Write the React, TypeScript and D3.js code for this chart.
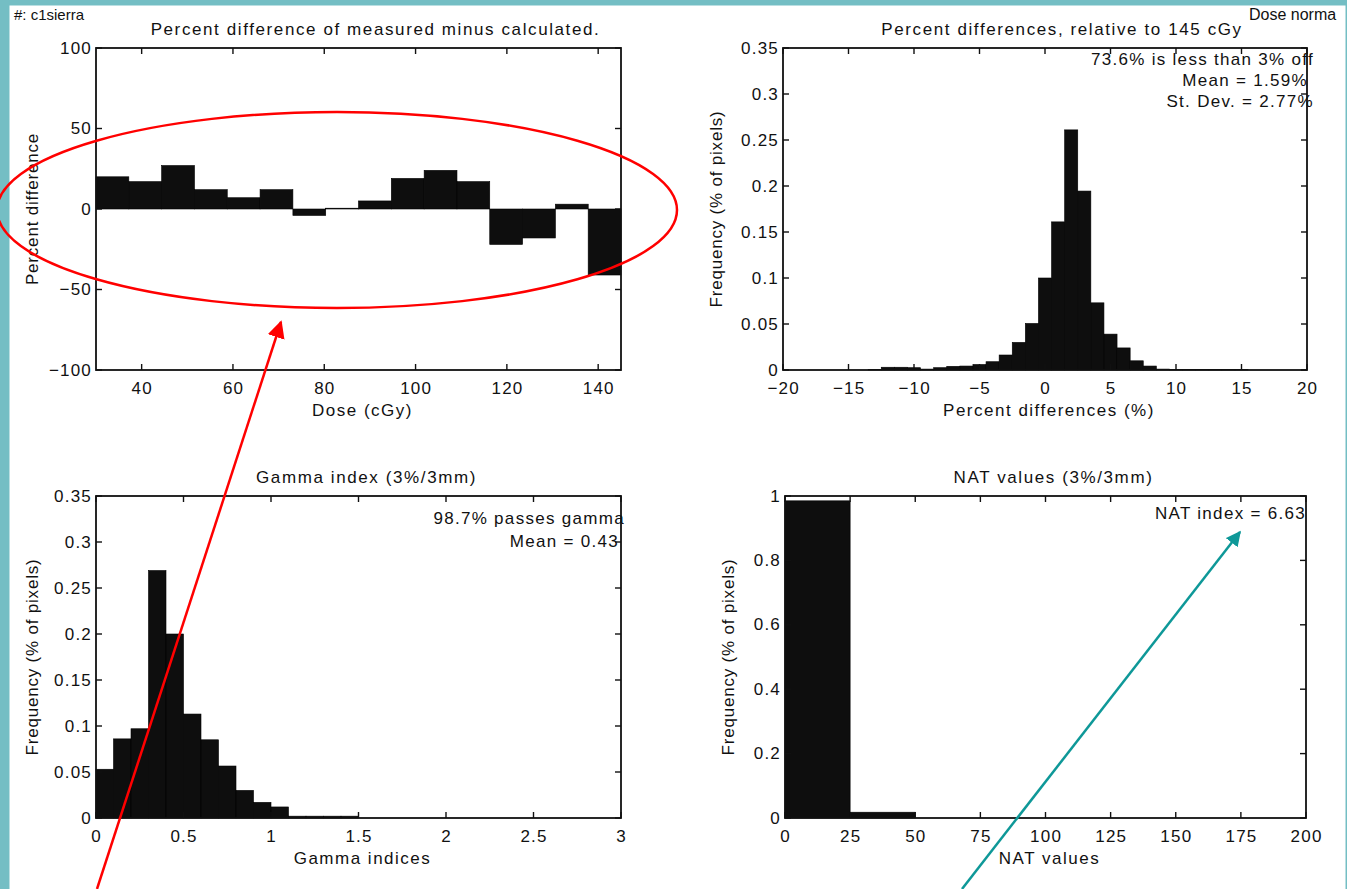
import * as d3 from "d3";

// ---- data ----
const doseBinStart = [30, 37.19, 44.38, 51.56, 58.75, 65.94, 73.13, 80.31, 87.5, 94.69, 101.88, 109.06, 116.25, 123.44, 130.63, 137.81];
const doseBinWidth = 7.19;
const doseDiff = [20, 17, 27, 12, 7, 12, -4, 0.5, 5, 19, 24, 17, -22, -18, 3, -41];
const doseTicks = [40, 60, 80, 100, 120, 140];
const diffTicks = [-100, -50, 0, 50, 100];
const diffTickLabels = ["\u2212100", "\u221250", "0", "50", "100"];

const pctCenters = [-15, -14, -13, -12, -11, -10, -9, -8, -7, -6, -5, -4, -3, -2, -1, 0, 1, 2, 3, 4, 5, 6, 7, 8, 9, 10, 11, 12, 13, 14, 15];
const pctFreq = [0, 0, 0.0005, 0.003, 0.003, 0.0025, 0.001, 0.0025, 0.004, 0.0043, 0.006, 0.009, 0.0163, 0.03, 0.0506, 0.1, 0.161, 0.261, 0.1945, 0.073, 0.039, 0.024, 0.01, 0.0043, 0.001, 0.0005, 0.0005, 0.0005, 0.0005, 0.0005, 0.0005];
const pctTicks = [-20, -15, -10, -5, 0, 5, 10, 15, 20];
const pctTickLabels = ["\u221220", "\u221215", "\u221210", "\u22125", "0", "5", "10", "15", "20"];
const freqTicks = [0, 0.05, 0.1, 0.15, 0.2, 0.25, 0.3, 0.35];
const freqTickLabels = ["0", "0.05", "0.1", "0.15", "0.2", "0.25", "0.3", "0.35"];

const gammaBinStart = [0, 0.1, 0.2, 0.3, 0.4, 0.5, 0.6, 0.7, 0.8, 0.9, 1.0, 1.1, 1.2, 1.3, 1.4];
const gammaBinWidth = 0.1;
const gammaFreq = [0.053, 0.086, 0.097, 0.269, 0.2, 0.113, 0.085, 0.0565, 0.03, 0.017, 0.012, 0.002, 0.002, 0.002, 0.002];
const gammaTicks = [0, 0.5, 1, 1.5, 2, 2.5, 3];
const gammaTickLabels = ["0", "0.5", "1", "1.5", "2", "2.5", "3"];

const natBinStart = [0, 25];
const natBinWidth = 25;
const natFreq = [0.985, 0.018];
const natTicks = [0, 25, 50, 75, 100, 125, 150, 175, 200];
const natFreqTicks = [0, 0.2, 0.4, 0.6, 0.8, 1];
const natFreqLabels = ["0", "0.2", "0.4", "0.6", "0.8", "1"];

const FONT = '"Liberation Sans", Arial, Helvetica, sans-serif';
const FS = 17;

type Bin = { x0: number; x1: number; v: number };
type Note = { text: string; x: number; y: number };

function Txt(props: any) {
  const { children, ...rest } = props;
  return (
    <text fontFamily={FONT} fontSize={FS} fill="#111" dominantBaseline="central" {...rest}>
      {children}
    </text>
  );
}

function Panel(p: {
  left: number; right: number; top: number; bottom: number;
  xDomain: [number, number]; yDomain: [number, number];
  xTicks: number[]; xTickLabels: string[];
  yTicks: number[]; yTickLabels: string[];
  bins: Bin[];
  title: string; titleDx: number; xTitle: string; yTitle: string; yTitleX: number;
  notes: Note[];
}) {
  const x = d3.scaleLinear().domain(p.xDomain).range([p.left, p.right]);
  const y = d3.scaleLinear().domain(p.yDomain).range([p.bottom, p.top]);
  const tl = 6;
  const cx = (p.left + p.right) / 2;
  const cy = (p.top + p.bottom) / 2;
  return (
    <g>
      {p.bins.map((b, i) => {
        const y0 = y(0);
        const yv = y(b.v);
        return (
          <rect key={i} x={x(b.x0)} width={x(b.x1) - x(b.x0)} y={Math.min(y0, yv)}
            height={Math.abs(y0 - yv)} fill="#0e0e0e" stroke="#000" strokeWidth={0.6} />
        );
      })}
      <rect x={p.left} y={p.top} width={p.right - p.left} height={p.bottom - p.top}
        fill="none" stroke="#111" strokeWidth={1.8} />
      {p.xTicks.map((t, i) => (
        <g key={"x" + i}>
          <line x1={x(t)} x2={x(t)} y1={p.bottom} y2={p.bottom - tl} stroke="#111" strokeWidth={1.4} />
          <line x1={x(t)} x2={x(t)} y1={p.top} y2={p.top + tl} stroke="#111" strokeWidth={1.4} />
          <Txt x={x(t) + 0.6} y={p.bottom + 18} textAnchor="middle" letterSpacing={1.2}>{p.xTickLabels[i]}</Txt>
        </g>
      ))}
      {p.yTicks.map((t, i) => (
        <g key={"y" + i}>
          <line x1={p.left} x2={p.left + tl} y1={y(t)} y2={y(t)} stroke="#111" strokeWidth={1.4} />
          <line x1={p.right} x2={p.right - tl} y1={y(t)} y2={y(t)} stroke="#111" strokeWidth={1.4} />
          <Txt x={p.left - 4} y={y(t)} textAnchor="end" letterSpacing={1.2}>{p.yTickLabels[i]}</Txt>
        </g>
      ))}
      <Txt x={cx + p.titleDx} y={p.top - 19} textAnchor="middle" letterSpacing={1.6}>{p.title}</Txt>
      <Txt x={cx + 4} y={p.bottom + 40} textAnchor="middle" letterSpacing={1.5}>{p.xTitle}</Txt>
      <Txt x={p.yTitleX} y={cy} textAnchor="middle" letterSpacing={0.8}
        transform={`rotate(-90 ${p.yTitleX} ${cy})`}>{p.yTitle}</Txt>
      {p.notes.map((n, i) => (
        <Txt key={"n" + i} x={n.x} y={n.y} textAnchor="end" letterSpacing={1.3}>{n.text}</Txt>
      ))}
    </g>
  );
}

export default function App() {
  const doseBins = doseBinStart.map((s, i) => ({ x0: s, x1: s + doseBinWidth, v: doseDiff[i] }));
  const pctBins = pctCenters.map((c, i) => ({ x0: c - 0.5, x1: c + 0.5, v: pctFreq[i] }));
  const gammaBins = gammaBinStart.map((s, i) => ({ x0: s, x1: s + gammaBinWidth, v: gammaFreq[i] }));
  const natBins = natBinStart.map((s, i) => ({ x0: s, x1: s + natBinWidth, v: natFreq[i] }));

  return (
    <svg width={1347} height={889} style={{ position: "absolute", left: 0, top: 0 }}>
      <defs>
        <marker id="headRed" viewBox="0 0 10 10" refX="9" refY="5" markerWidth="7" markerHeight="7" orient="auto" markerUnits="strokeWidth">
          <path d="M0,0 L10,5 L0,10 z" fill="#ff0000" />
        </marker>
        <marker id="headTeal" viewBox="0 0 10 10" refX="9" refY="5" markerWidth="6" markerHeight="6" orient="auto" markerUnits="strokeWidth">
          <path d="M0,0 L10,5 L0,10 z" fill="#0e9898" />
        </marker>
      </defs>
      <rect x={0} y={0} width={1347} height={889} fill="#74bec4" />
      <rect x={9.5} y={5.5} width={1336} height={884} fill="#fff" />

      <Txt x={14} y={14} fontSize={15}>#: c1sierra</Txt>
      <Txt x={1249} y={14} fontSize={16}>Dose norma</Txt>

      <Panel left={96} right={621} top={48} bottom={370}
        xDomain={[30, 145]} yDomain={[-100, 100]}
        xTicks={doseTicks} xTickLabels={doseTicks.map(String)}
        yTicks={diffTicks} yTickLabels={diffTickLabels}
        bins={doseBins}
        title="Percent difference of measured minus calculated." titleDx={17}
        xTitle="Dose (cGy)" yTitle="Percent difference" yTitleX={32}
        notes={[]} />

      <Panel left={783} right={1307} top={48} bottom={370}
        xDomain={[-20, 20]} yDomain={[0, 0.35]}
        xTicks={pctTicks} xTickLabels={pctTickLabels}
        yTicks={freqTicks} yTickLabels={freqTickLabels}
        bins={pctBins}
        title="Percent differences, relative to 145 cGy" titleDx={17}
        xTitle="Percent differences (%)" yTitle="Frequency (% of pixels)" yTitleX={716}
        notes={[
          { text: "73.6% is less than 3% off", x: 1314, y: 59 },
          { text: "Mean = 1.59%", x: 1308, y: 80 },
          { text: "St. Dev. = 2.77%", x: 1314, y: 101 },
        ]} />

      <Panel left={96} right={621} top={496} bottom={818}
        xDomain={[0, 3]} yDomain={[0, 0.35]}
        xTicks={gammaTicks} xTickLabels={gammaTickLabels}
        yTicks={freqTicks} yTickLabels={freqTickLabels}
        bins={gammaBins}
        title="Gamma index (3%/3mm)" titleDx={8}
        xTitle="Gamma indices" yTitle="Frequency (% of pixels)" yTitleX={32}
        notes={[
          { text: "98.7% passes gamma", x: 625, y: 518 },
          { text: "Mean = 0.43", x: 619, y: 541 },
        ]} />

      <Panel left={785} right={1306} top={496} bottom={818}
        xDomain={[0, 200]} yDomain={[0, 1]}
        xTicks={natTicks} xTickLabels={natTicks.map(String)}
        yTicks={natFreqTicks} yTickLabels={natFreqLabels}
        bins={natBins}
        title="NAT values (3%/3mm)" titleDx={8}
        xTitle="NAT values" yTitle="Frequency (% of pixels)" yTitleX={728}
        notes={[{ text: "NAT index = 6.63", x: 1306, y: 513 }]} />

      {/* hand-drawn callouts */}
      <ellipse cx={337} cy={210} rx={340} ry={98} fill="none" stroke="#ff0000" strokeWidth={2.5} />
      <line x1={97} y1={889} x2={281} y2={322} stroke="#ff0000" strokeWidth={2.5} markerEnd="url(#headRed)" />
      <line x1={962} y1={889} x2={1240} y2={532} stroke="#0e9898" strokeWidth={2.5} markerEnd="url(#headTeal)" />
    </svg>
  );
}
